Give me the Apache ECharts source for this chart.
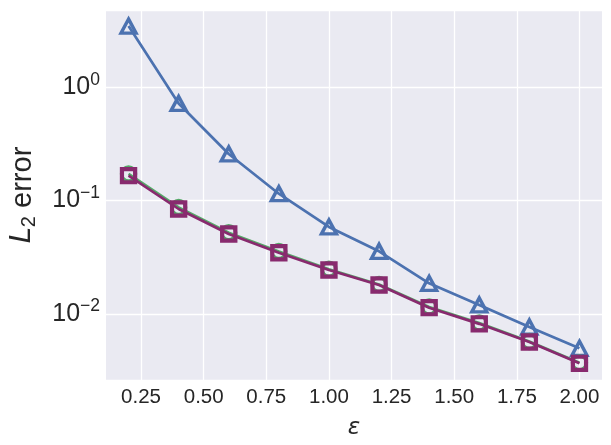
<!DOCTYPE html>
<html>

<head>
    <meta charset="utf-8" />
    <title>L2 error</title>
    <script src="https://cdn.jsdelivr.net/npm/echarts@6.0.0/dist/echarts.min.js"></script>
    <style>
        html, body {
            margin: 0;
            padding: 0;
            background: #ffffff;
        }
    </style>
</head>

<body>
    <div id="main" style="width: 611px;height:445px;"></div>
</body>

<script>
    // 数据
    var eps = [0.2, 0.4, 0.6, 0.8, 1.0, 1.2, 1.4, 1.6, 1.8, 2.0];
    var errTriangle = [3.47, 0.72, 0.258, 0.115, 0.0585, 0.0357, 0.0186, 0.0120, 0.00766, 0.00497];
    var errCircle = [0.172, 0.087, 0.052, 0.0355, 0.0248, 0.0182, 0.0115, 0.0083, 0.0057, 0.0037];
    var errSquare = [0.166, 0.0843, 0.0507, 0.0347, 0.0244, 0.0180, 0.01135, 0.00817, 0.00565, 0.00366];
    var xTicks = [0.25, 0.5, 0.75, 1.0, 1.25, 1.5, 1.75, 2.0];

    function pairs(ys) {
        return eps.map(function (x, i) { return [x, ys[i]]; });
    }

    var myChart = echarts.init(document.getElementById('main'));
    var font = 'Liberation Sans, Arial, sans-serif';
    var textColor = '#262626';

    var option = {
        backgroundColor: '#ffffff',
        animation: false,
        grid: {
            left: 106,
            right: 9,
            top: 10,
            bottom: 65,
            outerBoundsMode: 'none',
            containLabel: false,
            show: true,
            backgroundColor: '#EAEAF2',
            borderWidth: 0
        },
        xAxis: {
            type: 'value',
            min: 0.11,
            max: 2.09,
            name: 'ε',
            nameLocation: 'middle',
            nameGap: 37,
            nameTextStyle: {
                fontFamily: 'DejaVu Sans',
                fontStyle: 'italic',
                fontSize: 23,
                color: textColor
            },
            axisLine: { show: false },
            axisTick: { show: false, customValues: xTicks },
            axisLabel: {
                customValues: xTicks,
                fontFamily: font,
                fontSize: 20.5,
                color: textColor,
                margin: 7,
                formatter: function (v) { return v.toFixed(2); }
            },
            splitLine: { show: true, lineStyle: { color: '#ffffff', width: 1.3 } }
        },
        yAxis: {
            type: 'log',
            logBase: 10,
            min: 0.00261,
            max: 4.81,
            name: '{i|L}{sub|2}{n| error}',
            nameLocation: 'middle',
            nameGap: 67,
            nameTextStyle: {
                color: textColor,
                rich: {
                    i: { fontFamily: 'DejaVu Sans', fontStyle: 'italic', fontSize: 29, color: textColor },
                    sub: { fontFamily: font, fontSize: 20, color: textColor, padding: [13, 0, 0, 0] },
                    n: { fontFamily: font, fontSize: 29, color: textColor }
                }
            },
            axisLine: { show: false },
            axisTick: { show: false },
            minorTick: { show: false },
            axisLabel: {
                showMinLabel: false,
                showMaxLabel: false,
                margin: 6,
                formatter: function (v) {
                    var l = Math.log10(v);
                    var e = Math.round(l);
                    if (Math.abs(l - e) > 1e-6) return '';
                    var s = e < 0 ? '\u2212' + (-e) : '' + e;
                    return '{b|10}{s|' + s + '}';
                },
                rich: {
                    b: { fontFamily: font, fontSize: 25, color: textColor },
                    s: { fontFamily: font, fontSize: 17.5, color: textColor, padding: [0, 0, 15, 0] }
                }
            },
            splitLine: { show: true, lineStyle: { color: '#ffffff', width: 1.3 } }
        },
        series: [
            {
                type: 'line',
                data: pairs(errTriangle),
                symbol: 'triangle',
                symbolSize: [15, 14],
                lineStyle: { color: '#4C72B0', width: 2.7 },
                itemStyle: { color: 'rgba(0,0,0,0)', borderColor: '#4C72B0', borderWidth: 3.4 },
                z: 2
            },
            {
                type: 'line',
                data: pairs(errCircle),
                symbol: 'circle',
                symbolSize: 14,
                lineStyle: { color: '#55A868', width: 2.7 },
                itemStyle: { color: 'rgba(0,0,0,0)', borderColor: '#55A868', borderWidth: 3.4 },
                z: 3
            },
            {
                type: 'line',
                data: pairs(errSquare),
                symbol: 'rect',
                symbolSize: 13.2,
                lineStyle: { color: '#882A6E', width: 2.7 },
                itemStyle: { color: 'rgba(0,0,0,0)', borderColor: '#882A6E', borderWidth: 4.2 },
                z: 4
            }
        ]
    };

    myChart.setOption(option);
</script>

</html>
